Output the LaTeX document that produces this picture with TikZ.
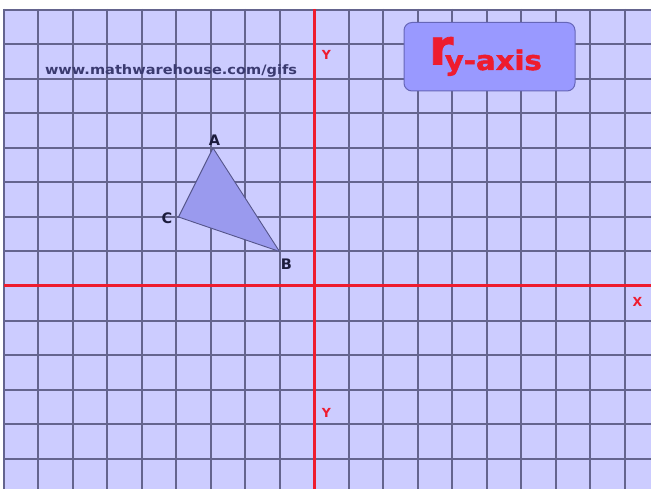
\documentclass[tikz,border=0pt]{standalone}
\usepackage{fontspec}
\setmainfont{DejaVu Sans}
\newfontfamily\heavyr[FakeBold=1.6]{DejaVu Sans Bold}
\begin{document}
\begin{tikzpicture}[x=1pt,y=-1pt,
  gridline/.style={draw=gridc,line width=2pt},
  axisline/.style={draw=axisred,line width=3pt},
  axislbl/.style={text=axisred,font=\fontsize{12.5}{12.5}\selectfont\bfseries,inner sep=0pt},
  vlbl/.style={text=navy,font=\fontsize{14.5}{14.5}\selectfont\bfseries,inner sep=0pt},
]
\definecolor{lav}{HTML}{CCCCFF}
\definecolor{gridc}{HTML}{64648E}
\definecolor{axisred}{HTML}{EE1C2E}
\definecolor{navy}{HTML}{1C1C3C}
\definecolor{trifill}{HTML}{9A9AEE}
\definecolor{tridraw}{HTML}{55558A}
\definecolor{boxfill}{HTML}{9999FF}
\definecolor{boxdraw}{HTML}{6666B8}
\definecolor{urlc}{HTML}{3A3A70}
\useasboundingbox (0,0) rectangle (651,489);
\fill[white] (0,0) rectangle (651,489);
\fill[lav] (4,9) rectangle (651,489);
% grid
\foreach \k in {-9,...,9} {
  \draw[gridline] ({314+34.5*\k},9) -- ({314+34.5*\k},489);
}
\foreach \k in {-8,...,5} {
  \draw[gridline] (4,{286+34.5*\k}) -- (651,{286+34.5*\k});
}
% axes
\draw[axisline] (4,286) -- (651,286);
\draw[axisline] (314,9) -- (314,489);
\node[axislbl] (ytop) at (326.5,55) {Y};
\node[axislbl] (ybot) at (326.5,413) {Y};
\node[axislbl] (xlbl) at (637.5,302) {X};
% triangle
\coordinate (A) at (213,148);
\coordinate (B) at (279.5,251.5);
\coordinate (C) at (178.5,217);
\filldraw[fill=trifill,draw=tridraw,line width=0.9pt,line join=round] (A) -- (B) -- (C) -- cycle;
\node[vlbl] (la) at (214.5,140.5) {A};
\node[vlbl] (lb) at (286.5,264.5) {B};
\node[vlbl] (lc) at (167,218.5) {C};
% url
\node[text=urlc,font=\fontsize{13}{13}\selectfont\bfseries,inner sep=0pt,xscale=1.12] (url) at (171,70.5) {www.mathwarehouse.com/gifs};
% title box
\filldraw[fill=boxfill,draw=boxdraw,line width=1pt,rounded corners=8pt] (404,22.5) rectangle (575,91);
\node[anchor=base west,inner sep=0pt,text=axisred] (title) at (429,64.5)
  {\fontsize{49}{49}\selectfont\heavyr r\kern-8.5pt\raisebox{-5.5pt}{\fontsize{27}{27}\selectfont\bfseries\scalebox{1.08}[1]{y-axis}}};
\end{tikzpicture}
\end{document}
